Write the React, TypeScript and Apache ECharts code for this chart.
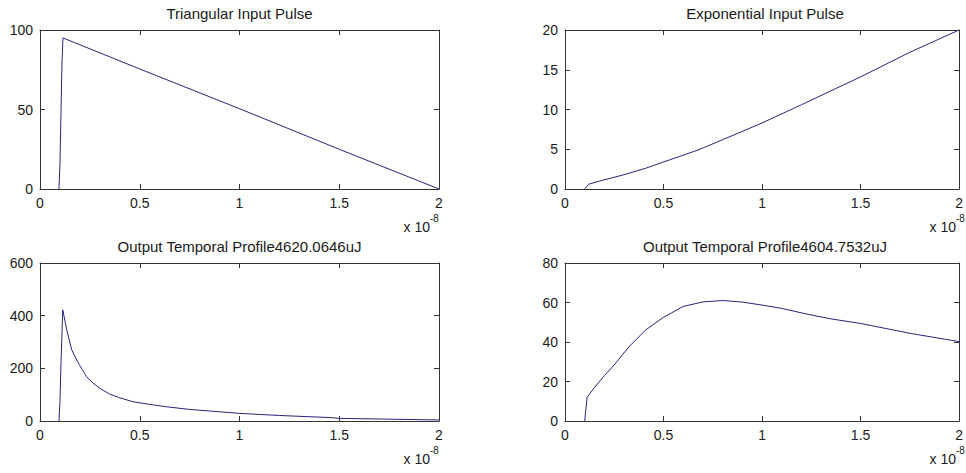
import React, { useEffect, useRef } from "react";
import * as echarts from "echarts";

// time in units of 1e-8 s
const triX = [0.095, 0.1, 0.105, 0.11, 0.115, 0.5, 1.0, 1.5, 2.0];
const triY = [0, 15, 47, 78, 95, 75.5, 50.5, 25, 0];

const expX = [0.1, 0.12, 0.175, 0.3, 0.408, 0.5, 0.675, 0.8, 1.0, 1.2, 1.5, 1.75, 2.0];
const expY = [0, 0.6, 1.0, 1.8, 2.6, 3.4, 4.9, 6.2, 8.3, 10.6, 14.1, 17.2, 20];

const out1X = [0.095, 0.1, 0.105, 0.114, 0.12, 0.134, 0.159, 0.184, 0.2, 0.234, 0.26, 0.3, 0.35, 0.4, 0.467, 0.55, 0.634, 0.75, 0.85, 1.0, 1.2, 1.454, 1.5, 1.75, 2.0];
const out1Y = [0, 70, 213, 422, 400, 346, 270, 232, 210, 168, 148, 124, 102, 88, 73, 63, 54, 44, 38, 29, 21, 13, 10, 7, 4];

const out2X = [0.1, 0.112, 0.15, 0.2, 0.242, 0.325, 0.408, 0.5, 0.6, 0.7, 0.8, 0.9, 1.0, 1.1, 1.225, 1.35, 1.5, 1.75, 2.0];
const out2Y = [0, 12, 17, 23, 27.5, 37.6, 46, 52.5, 58, 60.3, 61, 60.2, 58.7, 57, 54.2, 51.7, 49.4, 44.4, 40.2];

const titles = [
  "Triangular Input Pulse",
  "Exponential Input Pulse",
  "Output Temporal Profile4620.0646uJ",
  "Output Temporal Profile4604.7532uJ",
];
const yMax = [100, 20, 600, 80];
const yStep = [50, 5, 200, 20];
const xMax = 2;
const xStep = 0.5;
const exponentLabel = "-8";
const scaleLabel = "x 10";

const grids = [
  { left: 40, top: 30, width: 399, height: 159 },
  { left: 565, top: 30, width: 400, height: 159 },
  { left: 40, top: 263, width: 399, height: 158 },
  { left: 565, top: 263, width: 400, height: 158 },
];

const LINE = "#24247c";
const AXIS = "#333333";
const TEXT = "#1a1a1a";
const FONT = "Arial, 'Liberation Sans', Helvetica, sans-serif";

function pairs(xs: number[], ys: number[]) {
  return xs.map((x, i) => [x, ys[i]]);
}

export default function App() {
  const ref = useRef<HTMLDivElement>(null);
  useEffect(() => {
    if (!ref.current) return;
    const chart = echarts.init(ref.current, undefined, { renderer: "svg" });
    const datasets = [pairs(triX, triY), pairs(expX, expY), pairs(out1X, out1Y), pairs(out2X, out2Y)];

    const xAxes: any[] = [];
    const yAxes: any[] = [];
    const baseLine = { show: true, lineStyle: { color: AXIS, width: 1 } };
    const tick = { show: true, inside: true, length: 5, lineStyle: { color: AXIS } };
    for (let i = 0; i < 4; i++) {
      xAxes.push({
        type: "value", gridIndex: i, min: 0, max: xMax, interval: xStep, position: "bottom",
        axisLine: { ...baseLine, onZero: false }, axisTick: tick, splitLine: { show: false },
        axisLabel: { color: TEXT, fontSize: 14, fontFamily: FONT, margin: 7 },
      });
      yAxes.push({
        type: "value", gridIndex: i, min: 0, max: yMax[i], interval: yStep[i], position: "left",
        axisLine: { ...baseLine, onZero: false }, axisTick: tick, splitLine: { show: false },
        axisLabel: { color: TEXT, fontSize: 14, fontFamily: FONT, margin: 7 },
      });
    }
    for (let i = 0; i < 4; i++) {
      xAxes.push({
        type: "value", gridIndex: i, min: 0, max: xMax, interval: xStep, position: "top",
        axisLine: { ...baseLine, onZero: false }, axisTick: tick, splitLine: { show: false },
        axisLabel: { show: false },
      });
      yAxes.push({
        type: "value", gridIndex: i, min: 0, max: yMax[i], interval: yStep[i], position: "right",
        axisLine: { ...baseLine, onZero: false }, axisTick: tick, splitLine: { show: false },
        axisLabel: { show: false },
      });
    }

    const graphics: any[] = [];
    grids.forEach((g, i) => {
      const cx = g.left + g.width / 2;
      const right = g.left + g.width;
      const bottom = g.top + g.height;
      graphics.push({
        type: "text", x: cx, y: g.top - 17,
        style: { text: titles[i], font: `15px ${FONT}`, fill: TEXT, align: "center", verticalAlign: "middle", textAlign: "center", textVerticalAlign: "middle" },
      });
      graphics.push({
        type: "text", x: right - 9, y: bottom + 38,
        style: { text: scaleLabel, font: `14px ${FONT}`, fill: TEXT, align: "right", verticalAlign: "middle", textAlign: "right", textVerticalAlign: "middle" },
      });
      graphics.push({
        type: "text", x: right - 9, y: bottom + 29,
        style: { text: exponentLabel, font: `10px ${FONT}`, fill: TEXT, align: "left", verticalAlign: "middle", textAlign: "left", textVerticalAlign: "middle" },
      });
    });

    chart.setOption({
      animation: false,
      backgroundColor: "#ffffff",
      grid: grids.map((g) => ({ ...g, containLabel: false })),
      xAxis: xAxes,
      yAxis: yAxes,
      graphic: graphics,
      series: datasets.map((d, i) => ({
        type: "line", xAxisIndex: i, yAxisIndex: i, data: d, showSymbol: false, symbol: "none",
        lineStyle: { color: LINE, width: 1 }, itemStyle: { color: LINE }, clip: true,
      })),
    });
    return () => chart.dispose();
  }, []);
  return (
    <div
      ref={ref}
      style={{ position: "fixed", left: 0, top: 0, width: 966, height: 473, background: "#fff" }}
    />
  );
}
